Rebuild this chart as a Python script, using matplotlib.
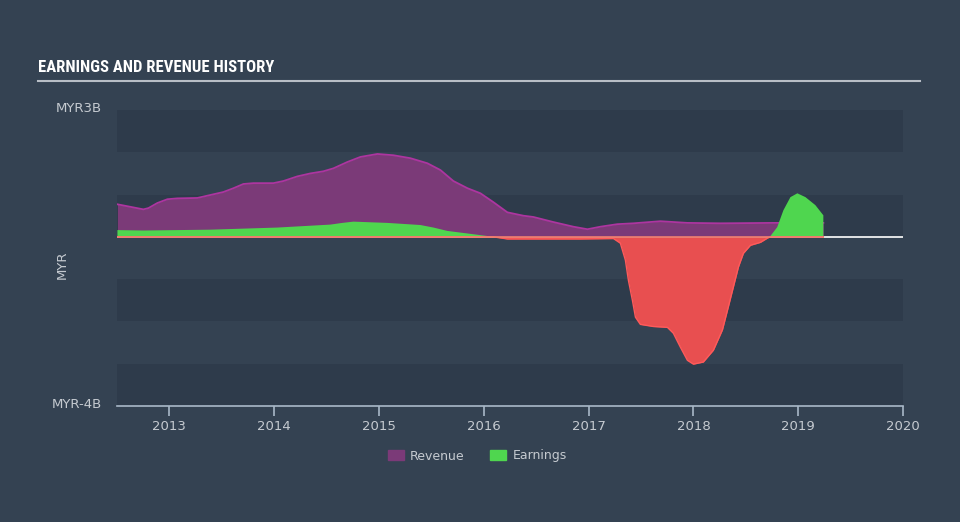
import matplotlib.pyplot as plt
import numpy as np
from matplotlib.patches import Patch
from matplotlib import font_manager

# values in billions MYR, x as decimal years
rev_x = [2012.504, 2012.628, 2012.752, 2012.800, 2012.885, 2012.981, 2013.076, 2013.267, 2013.391,
         2013.515, 2013.611, 2013.706, 2013.802, 2013.992, 2014.088, 2014.221, 2014.345, 2014.469,
         2014.565, 2014.698, 2014.823, 2014.985, 2015.137, 2015.300, 2015.462, 2015.586, 2015.710,
         2015.844, 2015.968, 2016.092, 2016.225, 2016.378, 2016.473, 2016.664, 2016.855, 2016.989,
         2017.113, 2017.275, 2017.427, 2017.685, 2017.943, 2018.258, 2018.763, 2019.240]
rev_y = [0.77, 0.71, 0.65, 0.68, 0.80, 0.89, 0.91, 0.92, 0.99,
         1.06, 1.15, 1.25, 1.27, 1.27, 1.32, 1.43, 1.50, 1.55,
         1.62, 1.77, 1.89, 1.96, 1.93, 1.86, 1.74, 1.58, 1.32,
         1.15, 1.03, 0.82, 0.58, 0.50, 0.47, 0.35, 0.24, 0.18,
         0.24, 0.30, 0.32, 0.37, 0.33, 0.32, 0.33, 0.33]

earn_x = [2012.504, 2012.752, 2013.391, 2014.030, 2014.536, 2014.650, 2014.756, 2015.080, 2015.395,
          2015.520, 2015.653, 2015.844, 2016.034, 2016.092, 2016.225, 2016.920, 2017.237, 2017.303,
          2017.351, 2017.380, 2017.418, 2017.447, 2017.494, 2017.618, 2017.752, 2017.809, 2017.876,
          2017.943, 2018.000, 2018.095, 2018.191, 2018.277, 2018.334, 2018.382, 2018.430, 2018.477,
          2018.544, 2018.640, 2018.706, 2018.735, 2018.800, 2018.859, 2018.926, 2018.992, 2019.069,
          2019.164, 2019.240]
earn_y = [0.16, 0.15, 0.17, 0.22, 0.29, 0.33, 0.36, 0.33, 0.28,
          0.22, 0.14, 0.08, 0.02, 0.0, -0.05, -0.05, -0.04, -0.15,
          -0.55, -1.03, -1.50, -1.90, -2.07, -2.12, -2.14, -2.28, -2.61,
          -2.92, -3.01, -2.96, -2.68, -2.20, -1.65, -1.18, -0.71, -0.39,
          -0.20, -0.13, -0.03, 0.02, 0.23, 0.63, 0.94, 1.03, 0.94,
          0.75, 0.51]

years = [2013, 2014, 2015, 2016, 2017, 2018, 2019, 2020]

bg = '#344252'
band = '#2e3b4b'
txt = '#c5cad0'

# a narrow bold face for the title, if one is around
names = set(f.name for f in font_manager.fontManager.ttflist)
title_font = 'DejaVu Sans'
title_stretch = 'normal'
for n in ['Liberation Sans Narrow', 'DejaVu Sans Condensed', 'Roboto Condensed',
          'Open Sans Condensed']:
    if n in names:
        title_font = n
        break
else:
    title_stretch = 'condensed'

fig = plt.figure(figsize=(9.6, 5.22), dpi=100, facecolor=bg)
ax = fig.add_axes([117 / 960, 116 / 522, 786 / 960, 296 / 522])
ax.set_facecolor(bg)

# alternating bands
for lo in [2, 0, -2, -4]:
    ax.axhspan(lo, lo + 1, color=band, lw=0, zorder=0)

ex = np.array(earn_x)
ey = np.array(earn_y)

ax.fill_between(rev_x, 0, rev_y, color='#7b3a78', lw=0, zorder=2)
ax.plot(rev_x, rev_y, color='#ad35a0', lw=1.3, zorder=3, solid_joinstyle='round')

ax.fill_between(ex, 0, ey, where=ey >= 0, interpolate=True, color='#4fd64f', lw=0, zorder=4)
ax.fill_between(ex, 0, ey, where=ey <= 0, interpolate=True, color='#e84f50', lw=0, zorder=4)
ax.plot(ex, np.minimum(ey, 0), color='#ff5a5a', lw=1.0, zorder=5, solid_joinstyle='round')

ax.axhline(0, color='white', lw=1.2, zorder=1)
ax.plot([earn_x[0], earn_x[-1]], [0, 0], color='#f08070', lw=1.2, zorder=6)

ax.set_xlim(2012.5, 2020)
ax.set_ylim(-4, 3)
ax.set_xticks(years)
ax.set_xticklabels([str(y) for y in years])
ax.set_yticks([])
for s in ['top', 'right', 'left']:
    ax.spines[s].set_visible(False)
ax.spines['bottom'].set_color('#a9b8c8')
ax.spines['bottom'].set_linewidth(1.2)
ax.tick_params(axis='x', colors='#a9b8c8', length=7, width=1.2, direction='out',
               labelcolor=txt, labelsize=9.5, pad=3)

fig.text(102 / 960, 1 - 108 / 522, 'MYR3B', color=txt, fontsize=9.5, ha='right', va='center')
fig.text(102 / 960, 1 - 405 / 522, 'MYR-4B', color=txt, fontsize=9.5, ha='right', va='center')
fig.text(62 / 960, 1 - 265 / 522, 'MYR', color=txt, fontsize=9.5, ha='center', va='center',
         rotation=90)

fig.text(38 / 960, 1 - 67 / 522, 'EARNINGS AND REVENUE HISTORY', color='white', fontsize=12,
         fontweight='bold', family=[title_font, 'DejaVu Sans'], fontstretch=title_stretch,
         va='center')
fig.add_artist(plt.Line2D([38 / 960, 920 / 960], [1 - 81 / 522, 1 - 81 / 522],
                          color='#b8bec6', lw=1.5))

handles = [Patch(color='#7b3a78', label='Revenue'), Patch(color='#4fd64f', label='Earnings')]
fig.legend(handles=handles, loc='center', bbox_to_anchor=(0.497, 1 - 456 / 522), ncol=2,
           frameon=False, labelcolor=txt, fontsize=9, handlelength=1.3, handleheight=0.9,
           columnspacing=2.0, handletextpad=0.5)

fig.savefig('out.png', dpi=100, facecolor=bg)
